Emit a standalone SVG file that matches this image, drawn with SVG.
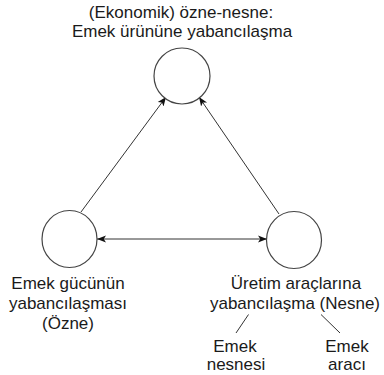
<svg xmlns="http://www.w3.org/2000/svg" width="384" height="375" viewBox="0 0 384 375">
  <style>
    text { font-family: "Liberation Sans", Arial, sans-serif; font-size: 17px; fill: #1a1a1a; text-anchor: middle; }
    .node { fill: #ffffff; stroke: #444444; stroke-width: 1.2; }
    .conn { stroke: #333333; stroke-width: 1; fill: none; }
  </style>
  <defs>
    <marker id="arrow" viewBox="0 0 10 10" refX="10" refY="5" markerWidth="9" markerHeight="9" markerUnits="userSpaceOnUse" orient="auto-start-reverse">
      <path d="M0,1 L10,5 L0,9 L2.5,5 Z" fill="#111111"/>
    </marker>
  </defs>
  <rect width="384" height="375" fill="#ffffff"/>
  <g id="connectors">
    <line class="conn" x1="81" y1="212" x2="166" y2="97" marker-end="url(#arrow)"/>
    <line class="conn" x1="279" y1="214" x2="199" y2="97" marker-end="url(#arrow)"/>
    <line class="conn" x1="97" y1="239" x2="267" y2="239" marker-start="url(#arrow)" marker-end="url(#arrow)"/>
    <line class="conn" x1="248.5" y1="314.5" x2="236" y2="333"/>
    <line class="conn" x1="321" y1="314.5" x2="340" y2="333"/>
  </g>
  <g id="top">
    <ellipse class="node" cx="182" cy="76" rx="28" ry="28"/>
    <text x="181" y="18">(Ekonomik) özne-nesne:</text>
    <text x="182" y="37">Emek ürününe yabancılaşma</text>
  </g>
  <g id="left">
    <ellipse class="node" cx="69.5" cy="239" rx="27.5" ry="28.5"/>
    <text x="68" y="289">Emek gücünün</text>
    <text x="68" y="309">yabancılaşması</text>
    <text x="68" y="329">(Özne)</text>
  </g>
  <g id="right">
    <ellipse class="node" cx="294" cy="240" rx="27.5" ry="28.5"/>
    <text x="296" y="289">Üretim araçlarına</text>
    <text x="295" y="309">yabancılaşma (Nesne)</text>
  </g>
  <g id="emek-nesnesi">
    <text x="235" y="352">Emek</text>
    <text x="236" y="370">nesnesi</text>
  </g>
  <g id="emek-araci">
    <text x="347" y="352">Emek</text>
    <text x="347" y="370">aracı</text>
  </g>
</svg>
